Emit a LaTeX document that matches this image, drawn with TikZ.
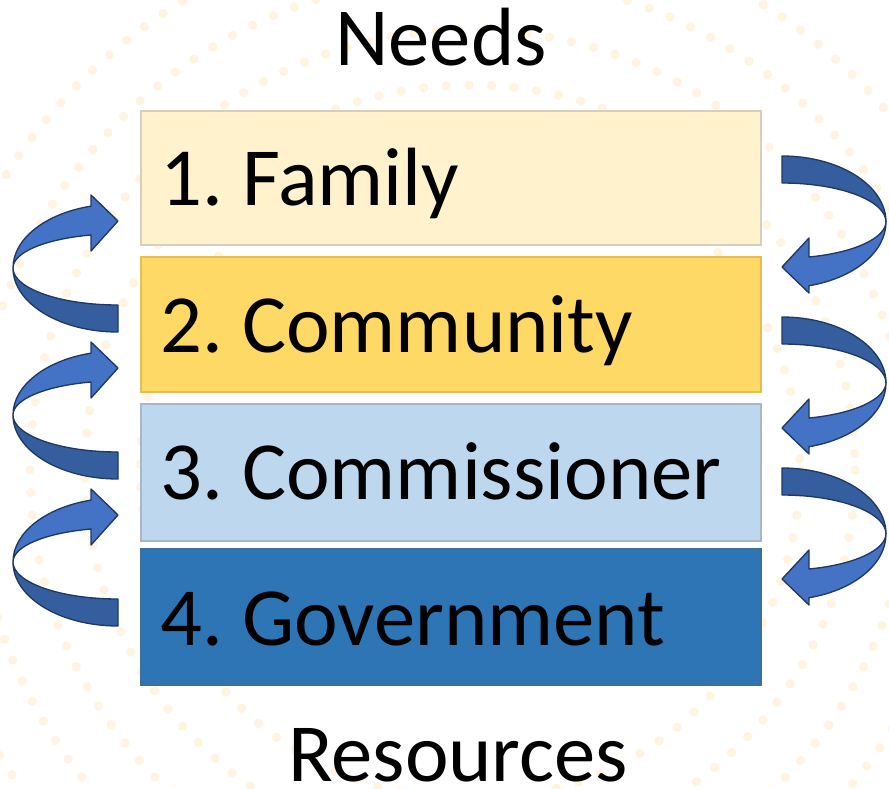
\documentclass[tikz,border=0pt]{standalone}
\usepackage{fontspec}
\setmainfont{Carlito}[WordSpace=0.7]
\begin{document}
\begin{tikzpicture}[x=0.75pt,y=-0.75pt,
  lbl/.style={font=\fontsize{62}{70}\selectfont, text=black, inner sep=0pt},
  boxone/.style={fill=box1fill, draw=box1line, line width=1.2pt},
  boxtwo/.style={fill=box2fill, draw=box2line, line width=1.2pt},
  boxthree/.style={fill=box3fill, draw=box3line, line width=1.2pt},
  boxfour/.style={fill=box4fill, draw=box4line, line width=1.2pt},
  frontpart/.style={fill=arrowfront, draw=arrowline, line width=1pt, line join=round},
  backpart/.style={fill=arrowback, draw=arrowline, line width=1pt, line join=round},
  dotring/.style={draw=dotcol, line width=7pt, line cap=round, dash pattern=on 0pt off 17pt}
]
\definecolor{box1fill}{HTML}{FFF2CC}
\definecolor{box1line}{HTML}{D6CFBF}
\definecolor{box2fill}{HTML}{FFD966}
\definecolor{box2line}{HTML}{E3BE55}
\definecolor{box3fill}{HTML}{BDD7EE}
\definecolor{box3line}{HTML}{A7B7C7}
\definecolor{box4fill}{HTML}{2E75B6}
\definecolor{box4line}{HTML}{3C6E9E}
\definecolor{arrowfront}{HTML}{4472C4}
\definecolor{arrowback}{HTML}{355E9E}
\definecolor{arrowline}{HTML}{1F3864}
\definecolor{dotcol}{HTML}{FFF4E2}
\useasboundingbox (0,0) rectangle (889,789);
\fill[white] (0,0) rectangle (889,789);
% faint dotted background rings
\begin{scope}
\clip (0,0) rectangle (889,789);
\foreach \r in {330,385,440,495,550}
  \draw[dotring] (470,470) circle[radius=\r];
\end{scope}
% boxes
\node[boxone, minimum width=620*0.75pt, minimum height=134*0.75pt, anchor=north west, inner sep=0pt] (b1) at (140,110) {};
\node[boxtwo, minimum width=620*0.75pt, minimum height=135*0.75pt, anchor=north west, inner sep=0pt] (b2) at (140,256) {};
\node[boxthree, minimum width=620*0.75pt, minimum height=137*0.75pt, anchor=north west, inner sep=0pt] (b3) at (140,403) {};
\node[boxfour, minimum width=620*0.75pt, minimum height=136*0.75pt, anchor=north west, inner sep=0pt] (b4) at (140,548) {};
\node[lbl, anchor=base west] (t1) at (160,205) {1. Family};
\node[lbl, anchor=base west] (t2) at (160,352) {2. Community};
\node[lbl, anchor=base west] (t3) at (160,499) {3. Commissioner};
\node[lbl, anchor=base west] (t4) at (160,645) {4. Government};
\node[lbl, anchor=base] (needs) at (441,65) {Needs};
\node[lbl, anchor=base] (res) at (458,781) {Resources};
% left curved arrows (pointing right, upward)
\foreach \cy in {268,415,562} {
  \begin{scope}[shift={(118,\cy)}]
    \draw[backpart] (-105,0) arc[start angle=180, end angle=90, x radius=105, y radius=64]
       -- (0,37) arc[start angle=90, end angle=180, x radius=105, y radius=37] -- cycle;
    \draw[frontpart] (-105,0) arc[start angle=180, end angle=255.1, x radius=105, y radius=64]
       -- (-27,-73) -- (0,-47) -- (-27,-17) -- (-27,-33)
       arc[start angle=255.1, end angle=180, x radius=105, y radius=34] -- cycle;
  \end{scope}
}
% right curved arrows (pointing left, downward)
\foreach \cy in {222,383,534} {
  \begin{scope}[shift={(782,\cy)}]
    \draw[backpart] (104,0) arc[start angle=0, end angle=-90, x radius=104, y radius=66]
       -- (0,-39) arc[start angle=-90, end angle=0, x radius=104, y radius=39] -- cycle;
    \draw[frontpart] (104,0) arc[start angle=0, end angle=75, x radius=104, y radius=66]
       -- (27,71) -- (0,45) -- (27,16) -- (27,35)
       arc[start angle=75, end angle=0, x radius=104, y radius=37] -- cycle;
  \end{scope}
}
\end{tikzpicture}
\end{document}
